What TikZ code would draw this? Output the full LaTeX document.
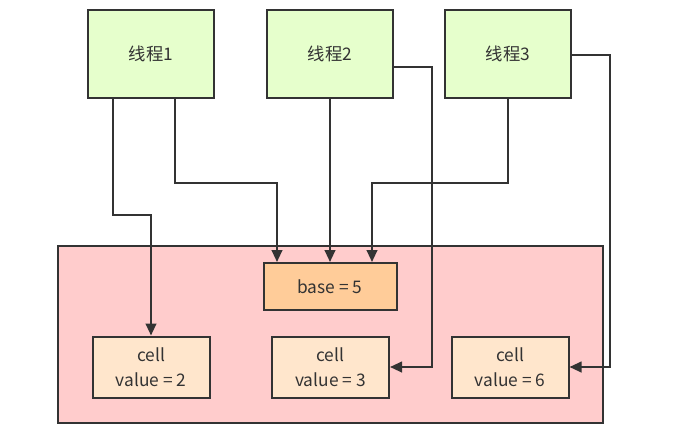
\documentclass[tikz,border=0pt]{standalone}
\usepackage{fontspec}
\setmainfont{Noto Sans CJK SC}
\usetikzlibrary{arrows.meta}
\definecolor{bordc}{HTML}{333333}
\definecolor{greenf}{HTML}{E6FFCC}
\definecolor{pinkf}{HTML}{FFCCCC}
\definecolor{basef}{HTML}{FFCC99}
\definecolor{cellf}{HTML}{FFE6CC}
\begin{document}
\begin{tikzpicture}[x=0.75pt,y=-0.75pt,
  box/.style={draw=bordc,line width=1.5pt,inner sep=0pt,align=center,
    font=\fontsize{13}{18.5}\selectfont,text=bordc},
  thread/.style={box,fill=greenf,minimum width=94.5pt,minimum height=66pt},
  container/.style={draw=bordc,line width=1.5pt,fill=pinkf,minimum width=408.75pt,minimum height=132.75pt,inner sep=0pt},
  basebox/.style={box,fill=basef,minimum width=99.75pt,minimum height=35.25pt},
  cellbox/.style={box,fill=cellf,minimum width=87.75pt,minimum height=45.75pt},
  arr/.style={draw=bordc,line width=1.5pt,-{Triangle[length=9pt,width=8pt]}}]
\useasboundingbox (0,0) rectangle (700,429);
\fill[white] (0,0) rectangle (700,429);

\node[container] (pool) at (330.5,334.5) {};

\node[thread] (t1) at (151,54) {线程1};
\node[thread] (t2) at (330,54) {线程2};
\node[thread] (t3) at (508,54) {线程3};

\node[basebox] (b) at (330,286.5) {base = 5};
\node[cellbox] (c1) at (151,367) {cell\\value = 2};
\node[cellbox] (c2) at (330.5,367) {cell\\value = 3};
\node[cellbox] (c3) at (510,367) {cell\\value = 6};

\draw[arr] ([xshift=-28.5pt]t1.south) |- (151,215) -- (c1.north);
\draw[arr] ([xshift=18pt]t1.south) |- (277,183) -- ([xshift=-39.75pt]b.north);
\draw[arr] (t2.south) -- (b.north);
\draw[arr] (t3.south) |- (372,183) -- ([xshift=31.5pt]b.north);
\draw[arr] ([yshift=-9.75pt]t2.east) -| (432,367) -- (c2.east);
\draw[arr] ([yshift=-0.75pt]t3.east) -| (610,367) -- (c3.east);
\end{tikzpicture}
\end{document}
